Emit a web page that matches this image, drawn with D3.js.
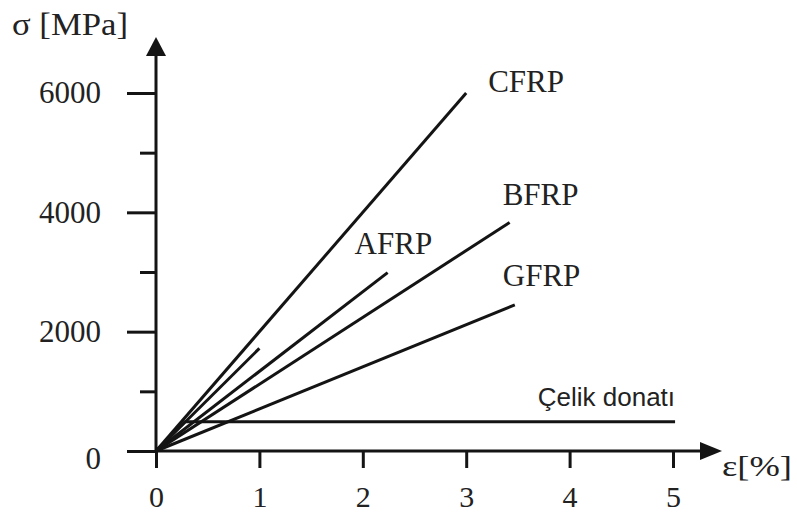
<!DOCTYPE html>
<html>
<head>
<meta charset="utf-8">
<script src="https://cdn.jsdelivr.net/npm/d3@7"></script>
<style>
  body { margin: 0; background: #fff; }
  svg { display: block; }
  .lbl { font-family: "Liberation Serif", "Times New Roman", serif; fill: #222; }
</style>
</head>
<body>
<div id="chart"></div>
<script>
// strain [%] and stress [MPa]
var cfrp = [[0, 0], [3.0, 6000]]
var short = [[0, 0], [1.0, 1720]]
var afrp = [[0, 0], [2.24, 2990]]
var bfrp = [[0, 0], [3.42, 3830]]
var gfrp = [[0, 0], [3.47, 2450]]
var celik = [[0, 0], [0.28, 490], [5.02, 490]]

var seriesNames = ["CFRP", "", "AFRP", "BFRP", "GFRP", "Çelik donatı"]
var seriesData = [cfrp, short, afrp, bfrp, gfrp, celik]

var xTicks = [0, 1, 2, 3, 4, 5]
var yMajor = [0, 2000, 4000, 6000]
var yMinor = [1000, 3000, 5000]

var width = 797, height = 516

var x = d3.scaleLinear().domain([0, 5]).range([156, 673])
var y = d3.scaleLinear().domain([0, 6000]).range([451, 93])

var svg = d3.select("#chart").append("svg")
  .attr("width", width)
  .attr("height", height)

var ink = "#141414"

// axis lines + arrow heads
svg.append("line")
  .attr("x1", x(0)).attr("x2", 708)
  .attr("y1", y(0)).attr("y2", y(0))
  .attr("stroke", ink).attr("stroke-width", 3)
svg.append("path")
  .attr("d", "M722," + y(0) + "L700," + (y(0) - 9) + "L700," + (y(0) + 9) + "Z")
  .attr("fill", ink)

svg.append("line")
  .attr("x1", x(0)).attr("x2", x(0))
  .attr("y1", y(0)).attr("y2", 52)
  .attr("stroke", ink).attr("stroke-width", 3)
svg.append("path")
  .attr("d", "M" + x(0) + ",37L" + (x(0) - 10) + ",56L" + (x(0) + 10) + ",56Z")
  .attr("fill", ink)

// x axis ticks
var xAxis = d3.axisBottom(x).tickValues(xTicks).tickSize(17).tickPadding(18).tickFormat(d3.format("d"))
var gx = svg.append("g")
  .attr("transform", "translate(0," + y(0) + ")")
  .call(xAxis)
gx.select(".domain").remove()
gx.selectAll("line").attr("stroke", ink).attr("stroke-width", 3)
gx.selectAll("text")
  .attr("class", "lbl")
  .attr("font-size", 30)
  .attr("fill", "#222")

// y axis, major + minor ticks
var gyMinor = svg.append("g")
  .attr("transform", "translate(" + x(0) + ",0)")
  .call(d3.axisLeft(y).tickValues(yMinor).tickSize(16).tickFormat(""))
gyMinor.select(".domain").remove()
gyMinor.selectAll("line").attr("stroke", ink).attr("stroke-width", 3)

var gy = svg.append("g")
  .attr("transform", "translate(" + x(0) + ",0)")
  .call(d3.axisLeft(y).tickValues(yMajor).tickSize(29).tickPadding(26).tickFormat(d3.format("d")))
gy.select(".domain").remove()
gy.selectAll("line").attr("stroke", ink).attr("stroke-width", 3)
gy.selectAll("text")
  .attr("class", "lbl")
  .attr("font-size", 31)
  .attr("fill", "#222")
// the zero sits a bit lower in the original
gy.selectAll(".tick").filter(function(d){ return d === 0 }).select("text")
  .attr("dy", "0.55em")

// series
var line = d3.line()
  .x(function(d){ return x(d[0]) })
  .y(function(d){ return y(d[1]) })

svg.append("g").selectAll("path")
  .data(seriesData)
  .enter().append("path")
  .attr("d", line)
  .attr("fill", "none")
  .attr("stroke", ink)
  .attr("stroke-width", 3)
  .attr("stroke-linejoin", "round")

// labels near line ends
var labelPos = [
  {name: "CFRP", dx: 22, dy: -1},
  {name: "AFRP", dx: -33, dy: -19},
  {name: "BFRP", dx: -7, dy: -17},
  {name: "GFRP", dx: -12, dy: -19}
]
labelPos.forEach(function(p){
  var i = seriesNames.indexOf(p.name)
  var end = seriesData[i][seriesData[i].length - 1]
  svg.append("text")
    .attr("class", "lbl")
    .attr("x", x(end[0]) + p.dx)
    .attr("y", y(end[1]) + p.dy)
    .attr("font-size", 31)
    .text(p.name)
})

svg.append("text")
  .attr("x", x(5.02))
  .attr("y", y(490) - 16)
  .attr("text-anchor", "end")
  .attr("font-family", "'Liberation Sans', Arial, sans-serif")
  .attr("font-size", 26)
  .attr("fill", "#222")
  .text(seriesNames[5])

// axis titles
svg.append("text")
  .attr("class", "lbl")
  .attr("x", 12)
  .attr("y", 35)
  .attr("font-size", 31)
  .attr("textLength", 116)
  .attr("lengthAdjust", "spacingAndGlyphs")
  .text("σ [MPa]")

svg.append("text")
  .attr("class", "lbl")
  .attr("x", 722)
  .attr("y", 476)
  .attr("font-size", 29)
  .attr("textLength", 70)
  .attr("lengthAdjust", "spacingAndGlyphs")
  .text("ε[%]")
</script>
</body>
</html>
